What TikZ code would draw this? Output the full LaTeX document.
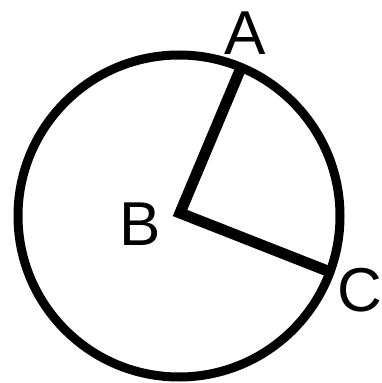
\documentclass[tikz,border=0pt]{standalone}
\usepackage{fontspec}
\setmainfont{Liberation Sans}
\usetikzlibrary{calc}
\begin{document}
\begin{tikzpicture}[x=1pt,y=1pt,
  lbl/.style={font=\fontsize{62}{62}\selectfont, inner sep=0pt, anchor=center},
  rim/.style={line width=9pt},
  radius line/.style={line width=11pt, line join=miter}]
\useasboundingbox (0,0) rectangle (382,383);
\coordinate (O) at (179,167);
\draw[rim] (O) circle (161);
\coordinate (B) at (180,170);
\coordinate (A) at ($(O)+(67.3:159)$);
\coordinate (C) at ($(O)+(-20.3:157)$);
\draw[radius line] (A) -- (B) -- (C);
\node[lbl] (lA) at (245,350) {A};
\node[lbl] (lB) at (140,159) {B};
\node[lbl] (lC) at (360,93) {C};
\end{tikzpicture}
\end{document}
